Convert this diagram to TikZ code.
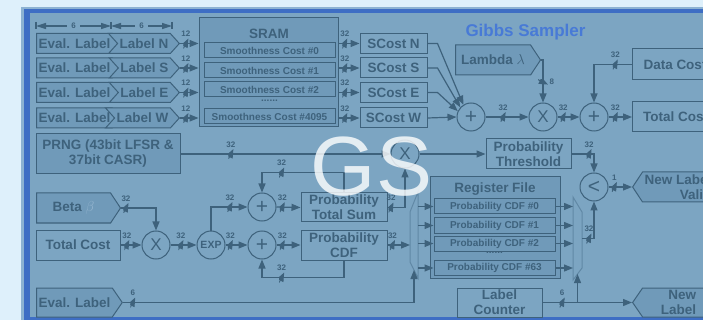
\documentclass[tikz,border=0pt]{standalone}
\usepackage{fontspec}
\setmainfont{Liberation Sans}
\usetikzlibrary{shapes.symbols,arrows.meta}

\definecolor{outerbg}{RGB}{222,240,251}
\definecolor{framelite}{RGB}{140,178,210}
\definecolor{frameblue}{RGB}{62,110,196}
\definecolor{panel}{RGB}{124,165,194}
\definecolor{boxfill}{RGB}{112,154,185}
\definecolor{ink}{RGB}{62,98,124}
\definecolor{muxink}{RGB}{96,136,165}
\definecolor{titleblue}{RGB}{72,122,214}
\definecolor{betaink}{RGB}{150,182,208}

\newcommand{\blkfont}{\fontsize{13.5}{15}\selectfont\bfseries}
\newcommand{\cellfont}{\fontsize{10}{11}\selectfont\bfseries}
\newcommand{\busfont}{\fontsize{8}{9}\selectfont\bfseries}
\newcommand{\opfont}{\fontsize{21}{21}\selectfont}

\tikzset{
  wire/.style={draw=ink, line width=1.2pt},
  arr/.style={wire, -{Triangle[length=9pt,width=7pt]}},
  dimarr/.style={wire, {Triangle[length=10pt,width=6pt]}-{Triangle[length=10pt,width=6pt]}},
  dimlbl/.style={fill=panel, text=ink, font=\busfont, inner xsep=4pt, inner ysep=1pt},
  blk/.style={rectangle, draw=ink, line width=1pt, inner sep=1pt, text=ink, font=\blkfont, align=center},
  blkfill/.style={blk, fill=boxfill},
  cell/.style={blk, fill=boxfill, font=\cellfont, minimum height=15pt},
  heading/.style={text=ink, font=\blkfont, inner sep=1pt},
  sig/.style={signal, draw=ink, line width=1pt, fill=boxfill, inner sep=2pt, text=ink, font=\blkfont},
  evsig/.style={sig, signal to=east, signal pointer angle=96, minimum width=84pt, minimum height=20pt},
  lblsig/.style={sig, signal from=west, signal to=east, signal pointer angle=96, minimum width=69pt, minimum height=20pt},
  op/.style={circle, draw=ink, line width=1pt, minimum size=28pt, inner sep=0pt, text=ink, font=\opfont},
  busnum/.style={text=ink, font=\busfont, inner sep=1pt},
  bus/.style={inner sep=0pt, outer sep=0pt, minimum width=5pt, minimum height=10pt,
    path picture={\draw[ink, line width=1pt] (path picture bounding box.south west) -- (path picture bounding box.north east);},
    label={[busnum]above:#1}},
  busv/.style={inner sep=0pt, outer sep=0pt, minimum width=10pt, minimum height=5pt,
    path picture={\draw[ink, line width=1pt] (path picture bounding box.north west) -- (path picture bounding box.south east);},
    label={[busnum]right:#1}},
  muxbody/.style={rectangle, inner sep=0pt, outer sep=0pt},
  muxline/.style={draw=muxink, line width=1pt},
}

\begin{document}
\begin{tikzpicture}[x=1pt, y=-1pt]
  \useasboundingbox (0,0) rectangle (703,320);
  \clip (0,0) rectangle (703,320);

  % backdrop and frame
  \fill[outerbg] (0,0) rectangle (703,320);
  \fill[framelite] (21,7) rectangle (720,330);
  \fill[frameblue] (24,9) rectangle (720,330);
  \fill[panel] (30,13) rectangle (720,317);

  % label rows
  \node[evsig, anchor=west] (evN) at (36,43.5) {Eval. Label};
  \node[evsig, anchor=west] (evS) at (36,68) {Eval. Label};
  \node[evsig, anchor=west] (evE) at (36,92.5) {Eval. Label};
  \node[evsig, anchor=west] (evW) at (36,118) {Eval. Label};
  \node[lblsig, anchor=east] (lbN) at (180,43.5) {Label N};
  \node[lblsig, anchor=east] (lbS) at (180,68) {Label S};
  \node[lblsig, anchor=east] (lbE) at (180,92.5) {Label E};
  \node[lblsig, anchor=east] (lbW) at (180,118) {Label W};

  \coordinate (dimA) at (36,26);
  \coordinate (dimB) at (111,26);
  \coordinate (dimC) at (172,26);
  \draw[dimarr] (dimA) -- node[dimlbl] (dimsixA) {6} (dimB);
  \draw[dimarr] (dimB) -- node[dimlbl] (dimsixB) {6} (dimC);
  \draw[wire] ([yshift=4pt]dimA) -- ([yshift=-3pt]dimA);
  \draw[wire] ([yshift=4pt]dimB) -- ([yshift=-3pt]dimB);
  \draw[wire] ([yshift=4pt]dimC) -- ([yshift=-3pt]dimC);

  % SRAM
  \node[blkfill, minimum width=139pt, minimum height=109pt] (sram) at (268.5,72.5) {};
  \node[heading] (sramhead) at (269,34) {SRAM};
  \node[cell, minimum width=131pt] (smc0) at (269.5,50.5) {Smoothness Cost \#0};
  \node[cell, minimum width=131pt] (smc1) at (269.5,70.5) {Smoothness Cost \#1};
  \node[cell, minimum width=131pt] (smc2) at (269.5,89.5) {Smoothness Cost \#2};
  \node[heading, font=\cellfont] (smcdots) at (269.5,101) {......};
  \node[cell, minimum width=131pt] (smc3) at (269.5,116.5) {Smoothness Cost \#4095};

  \draw[arr] (lbN.east) -- node[bus=12, pos=0.32] {} (lbN.east -| sram.west);
  \draw[arr] (lbS.east) -- node[bus=12, pos=0.32] {} (lbS.east -| sram.west);
  \draw[arr] (lbE.east) -- node[bus=12, pos=0.32] {} (lbE.east -| sram.west);
  \draw[arr] (lbW.east) -- node[bus=12, pos=0.32] {} (lbW.east -| sram.west);

  % smoothness costs
  \node[blk, minimum width=67pt, minimum height=20pt] (scN) at (393.5,43.5) {SCost N};
  \node[blk, minimum width=67pt, minimum height=20pt] (scS) at (393.5,68) {SCost S};
  \node[blk, minimum width=67pt, minimum height=20pt] (scE) at (393.5,92.5) {SCost E};
  \node[blk, minimum width=67pt, minimum height=20pt] (scW) at (393.5,118) {SCost W};

  \draw[arr] (scN.west -| sram.east) -- node[bus=32, pos=0.3] {} (scN.west);
  \draw[arr] (scS.west -| sram.east) -- node[bus=32, pos=0.3] {} (scS.west);
  \draw[arr] (scE.west -| sram.east) -- node[bus=32, pos=0.3] {} (scE.west);
  \draw[arr] (scW.west -| sram.east) -- node[bus=32, pos=0.3] {} (scW.west);

  % total cost path
  \node[text=titleblue, font=\fontsize{17}{17}\selectfont\bfseries] (title) at (525.5,32) {Gibbs Sampler};
  \node[op] (add1) at (471,117) {+};
  \node[op, font=\fontsize{17}{17}\selectfont] (mul1) at (543,117) {X};
  \node[op] (add2) at (594,117) {+};
  \node[sig, signal to=east, signal pointer angle=113, minimum width=85pt, minimum height=30pt, anchor=west] (lam) at (455,60) {Lambda $\lambda$};
  \node[blk, minimum width=85pt, minimum height=31pt, anchor=west] (dcost) at (632,64.5) {Data Cost};
  \node[blk, minimum width=86pt, minimum height=30pt, anchor=west] (tcost) at (632,117) {Total Cost};

  \draw[arr] (scN.east) -- ++(10,0) -- (add1.122);
  \draw[arr] (scS.east) -- ++(10,0) -- (add1.138);
  \draw[arr] (scE.east) -- ++(10,0) -- (add1.156);
  \draw[arr] (scW.east) -- (add1.west);
  \draw[arr] (add1.east) -- node[bus=32, pos=0.41] {} (mul1.west);
  \draw[arr] (lam.east) -| node[busv=8, pos=0.76] {} (mul1.north);
  \draw[arr] (mul1.east) -- node[bus=32, pos=0.26] {} (add2.west);
  \draw[arr] (dcost.west) -| node[bus=32, pos=0.22] {} (add2.north);
  \draw[arr] (add2.east) -- node[bus=32, pos=0.29] {} (tcost.west);

  % random threshold
  \node[blkfill, minimum width=144pt, minimum height=40pt] (prng) at (108,154) {PRNG (43bit LFSR \&\\37bit CASR)};
  \node[op, font=\fontsize{17}{17}\selectfont] (mul2) at (405,154) {X};
  \node[blk, minimum width=85pt, minimum height=30pt] (thr) at (528.5,154) {Probability\\Threshold};
  \node[op] (cmp) at (594,187) {<};
  \node[sig, signal to=west, signal pointer angle=113, minimum width=81pt, minimum height=30pt, anchor=west, align=right] (nlv) at (632,187) {New Label\\Valid};

  \draw[arr] (prng.east) -- node[bus=32, pos=0.24] {} (mul2.west);
  \draw[arr] (mul2.east) -- (thr.west);
  \draw[arr] (thr.east) -| node[bus=32, pos=0.39] {} (cmp.north);
  \draw[arr] (cmp.east) -- node[bus=1, pos=0.25] {} (nlv.west);

  % probability datapath
  \node[sig, signal to=east, signal pointer angle=113, minimum width=84pt, minimum height=30pt, anchor=west] (beta) at (36,208) {Beta {\color{betaink}$\beta$}\hspace{26pt}};
  \node[blk, minimum width=84pt, minimum height=30pt] (tcl) at (78,245) {Total Cost};
  \node[op, font=\fontsize{17}{17}\selectfont] (mul3) at (156,245) {X};
  \node[op, font=\fontsize{10.5}{11}\selectfont\bfseries] (expo) at (211,245) {EXP};
  \node[op] (add3) at (262,207) {+};
  \node[op] (add4) at (262,245) {+};
  \node[blk, minimum width=86pt, minimum height=29pt] (tsum) at (344,207.5) {Probability\\Total Sum};
  \node[blk, minimum width=86pt, minimum height=30pt] (pcdf) at (344,245) {Probability\\CDF};

  \draw[arr] (beta.east) -| node[bus=32, pos=0.07] {} (mul3.north);
  \draw[arr] (tcl.east) -- node[bus=32, pos=0.3] {} (mul3.west);
  \draw[arr] (mul3.east) -- node[bus=32, pos=0.4] {} (expo.west);
  \draw[arr] (expo.north) |- node[bus=32, pos=0.76] {} (add3.west);
  \draw[arr] (expo.east) -- node[bus=32, pos=0.22] {} (add4.west);
  \draw[arr] (add3.east) -- node[bus=32, pos=0.24] {} (tsum.west);
  \draw[arr] (add4.east) -- node[bus=32, pos=0.24] {} (pcdf.west);
  \draw[arr] (tsum.north) -- ++(0,-20) -| node[bus=32, pos=0.38] {} (add3.north);
  \draw[arr] (pcdf.south) -- ++(0,17) -| node[bus=32, pos=0.38] {} (add4.south);
  \draw[arr] (tsum.east) -| node[bus=32, pos=0.1] {} (mul2.south);

  % register file and muxes
  \node[blkfill, minimum width=130pt, minimum height=101pt] (regf) at (495,227.5) {};
  \node[heading] (regfhead) at (495,189) {Register File};
  \node[cell, minimum width=121pt] (pc0) at (494.5,206.5) {Probability CDF \#0};
  \node[cell, minimum width=121pt] (pc1) at (494.5,225.5) {Probability CDF \#1};
  \node[cell, minimum width=121pt] (pc2) at (494.5,243.5) {Probability CDF \#2};
  \node[heading, font=\cellfont] (pcdots) at (494.5,253) {......};
  \node[cell, minimum width=121pt] (pc3) at (494.5,268) {Probability CDF \#63};

  \node[muxbody, minimum width=8pt, minimum height=86pt] (dmx) at (414,235) {};
  \draw[muxline] (dmx.north east) -- (dmx.south east) -- ([yshift=16pt]dmx.south west) -- ([yshift=-20pt]dmx.north west) -- cycle;
  \node[muxbody, minimum width=9pt, minimum height=83pt] (mx) at (577.5,238.5) {};
  \draw[muxline] (mx.north west) -- (mx.south west) -- ([yshift=12pt]mx.south east) -- ([yshift=-15pt]mx.north east) -- cycle;

  \draw[arr] (pcdf.east) -- node[bus=32, pos=0.22] {} (pcdf.east -| dmx.west);
  \draw[arr] (pc0.west -| dmx.east) -- (pc0.west);
  \draw[arr] (pc1.west -| dmx.east) -- (pc1.west);
  \draw[arr] (pc2.west -| dmx.east) -- (pc2.west);
  \draw[arr] (pc3.west -| dmx.east) -- (pc3.west);
  \draw[arr] (pc0.east) -- (pc0.east -| mx.west);
  \draw[arr] (pc1.east) -- (pc1.east -| mx.west);
  \draw[arr] (pc2.east) -- (pc2.east -| mx.west);
  \draw[arr] (pc3.east) -- (pc3.east -| mx.west);
  \draw[arr] (mx.east) -| node[bus=32, pos=0.29] {} (cmp.south);

  % label select
  \node[sig, signal to=east, signal pointer angle=111, minimum width=84pt, minimum height=29pt, anchor=west] (evsel) at (36,302.5) {Eval. Label};
  \node[blk, minimum width=85pt, minimum height=29pt] (lcnt) at (499.5,302.5) {Label\\Counter};
  \node[sig, signal to=west, signal pointer angle=111, minimum width=82pt, minimum height=29pt, anchor=west, align=right] (nlab) at (632,302.5) {New\\Label};

  \draw[arr] (evsel.east) -| node[bus=6, pos=0.017] {} ([yshift=8pt]dmx.south);
  \draw[arr] (lcnt.east) -- node[bus=6, pos=0.22] {} (nlab.west);
  \draw[arr] (lcnt.east -| mx.south) -- ([yshift=6pt]mx.south);

  % watermark
  \node[text=white, opacity=0.8, font=\fontsize{84}{84}\selectfont, inner sep=0pt] (gsmark) at (371.5,166.5) {GS};
\end{tikzpicture}
\end{document}
